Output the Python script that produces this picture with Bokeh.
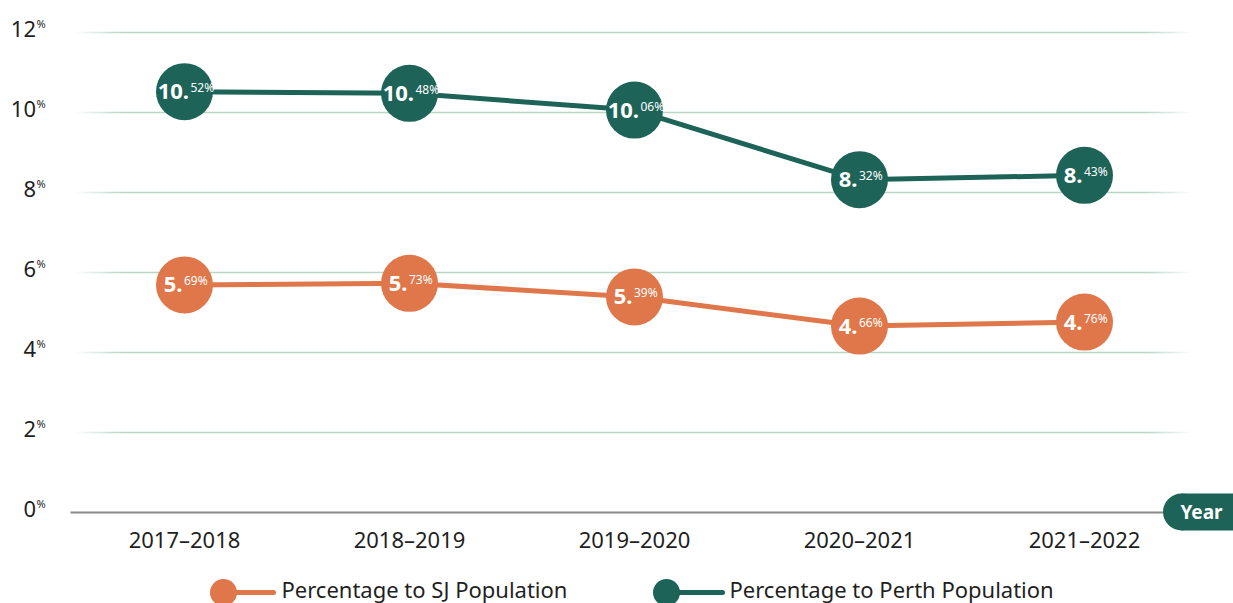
from bokeh.plotting import figure
from bokeh.models import Range1d, ColumnDataSource
from bokeh.core.properties import value
from bokeh.embed import file_html
from bokeh.resources import INLINE

# ---- data ----
years = ["2017–2018", "2018–2019", "2019–2020", "2020–2021", "2021–2022"]
sj_pct = [5.69, 5.73, 5.39, 4.66, 4.76]
perth_pct = [10.52, 10.48, 10.06, 8.32, 8.43]
y_ticks = [0, 2, 4, 6, 8, 10, 12]
series_names = ["Percentage to SJ Population", "Percentage to Perth Population"]
axis_title = "Year"

# ---- style ----
GREEN = "#1e6358"
ORANGE = "#df774a"
TEXT = "#1f1f1f"
GRID = "#b9d6c7"
FONT = "Noto Sans"

W, H = 1233, 603
PX_PER_CAT = 225.0
PX_PER_PCT = 40.0
X0_PAGE = 184.0   # page x of first category
Y0_PAGE = 512.0   # page y of 0%


def dx(px):
    return (px - X0_PAGE) / PX_PER_CAT


def dy(py):
    return (Y0_PAGE - py) / PX_PER_PCT


p = figure(width=W, height=H, output_backend="svg", toolbar_location=None,
           x_range=Range1d(dx(0), dx(W)), y_range=Range1d(dy(H), dy(0)),
           x_axis_type=None, y_axis_type=None, min_border=0,
           outline_line_color=None, background_fill_color="white",
           border_fill_color="white")
p.grid.visible = False

xs = list(range(len(years)))

# ---- gridlines with faded ends ----
gx0, gx1 = dx(74), dx(1192)
fade = 45 / PX_PER_CAT
nf = 12
seg = dict(x0=[], x1=[], y0=[], y1=[], a=[])
for t in y_ticks[1:]:
    seg["x0"].append(gx0 + fade); seg["x1"].append(gx1 - fade)
    seg["y0"].append(t); seg["y1"].append(t); seg["a"].append(1.0)
    for k in range(nf):
        a = (k + 0.5) / nf
        seg["x0"].append(gx0 + fade * k / nf); seg["x1"].append(gx0 + fade * (k + 1) / nf)
        seg["y0"].append(t); seg["y1"].append(t); seg["a"].append(a)
        seg["x0"].append(gx1 - fade * (k + 1) / nf); seg["x1"].append(gx1 - fade * k / nf)
        seg["y0"].append(t); seg["y1"].append(t); seg["a"].append(a)
p.segment(x0="x0", y0="y0", x1="x1", y1="y1", line_alpha="a", source=ColumnDataSource(seg),
          line_color=GRID, line_width=1.6)

# ---- x axis line ----
p.segment(x0=[dx(70)], y0=[y_ticks[0]], x1=[dx(1170)], y1=[y_ticks[0]],
          line_color="#8a8a8a", line_width=2)

# ---- y tick labels ----
p.text(x=[dx(35.5)] * len(y_ticks), y=[t + 3.4 / PX_PER_PCT for t in y_ticks],
       text=[str(t) for t in y_ticks], text_font=value(FONT), text_font_size="22px",
       text_color=TEXT, text_align="right", text_baseline="middle")
p.text(x=[dx(36)] * len(y_ticks), y=[t + 9 / PX_PER_PCT for t in y_ticks],
       text=["%"] * len(y_ticks), text_font=value(FONT), text_font_size="11px",
       text_color=TEXT, text_align="left", text_baseline="middle")

# ---- x tick labels ----
p.text(x=xs, y=[dy(538.5)] * len(xs), text=years, text_font=value(FONT),
       text_font_size="22px", text_color=TEXT, text_align="center",
       text_baseline="middle")

# ---- Year pill ----
p.quad(left=[dx(1181)], right=[dx(1260)], bottom=[dy(530)], top=[dy(493)],
       fill_color=GREEN, line_color=None)
p.scatter(x=[dx(1181)], y=[dy(511.5)], size=37, fill_color=GREEN, line_color=None)
p.text(x=[dx(1201)], y=[dy(511.5)], text=[axis_title], text_font=value(FONT),
       text_font_size="19px", text_font_style="bold", text_color="white",
       text_align="center", text_baseline="middle")


# ---- series ----
def label_parts(vals, main_fs=22, sup_fs=12):
    mains, sups, offs = [], [], []
    for v in vals:
        s = f"{v:.2f}"
        a, b = s.split(".")
        m = a + "."
        su = b + "%"
        mw = (0.6 * len(a) + 0.29) * main_fs
        sw = (0.572 * len(b) + 0.838) * sup_fs
        mains.append(m); sups.append(su)
        offs.append(-(mw + sw) / 2 + mw)
    return mains, sups, offs


for vals, col in ((sj_pct, ORANGE), (perth_pct, GREEN)):
    p.line(xs, vals, line_color=col, line_width=5)
    p.scatter(xs, vals, size=57, fill_color=col, line_color=None)
    mains, sups, offs = label_parts(vals)
    p.text(x=xs, y=vals, text=mains, x_offset=offs,
           text_font=value(FONT), text_font_size="22px", text_font_style="bold",
           text_color="white", text_align="right", text_baseline="middle")
    p.text(x=xs, y=[v + 4 / PX_PER_PCT for v in vals], text=sups,
           x_offset=[o + 1.5 for o in offs],
           text_font=value(FONT), text_font_size="12px", text_color="white",
           text_align="left", text_baseline="middle")

# ---- legend ----
for (cx, lx1, tx), col, name in (((223, 273, 281), ORANGE, series_names[0]),
                                 ((666, 722, 729), GREEN, series_names[1])):
    p.segment(x0=[dx(cx)], y0=[dy(592)], x1=[dx(lx1)], y1=[dy(592)],
              line_color=col, line_width=5, line_cap="round")
    p.scatter(x=[dx(cx)], y=[dy(592)], size=27, fill_color=col, line_color=None)
    p.text(x=[dx(tx)], y=[dy(588)], text=[name], text_font=value(FONT),
           text_font_size="22px", text_color=TEXT, text_align="left",
           text_baseline="middle")

open("out.html", "w").write(file_html(p, INLINE))
